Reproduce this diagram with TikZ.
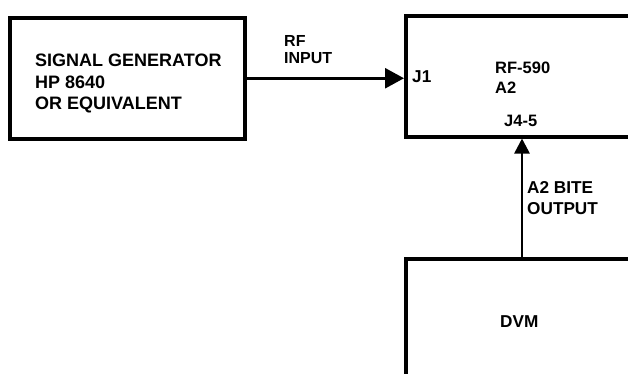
\documentclass[tikz,border=0pt]{standalone}
\usepackage{fontspec}
\setmainfont{Liberation Sans}
\usetikzlibrary{arrows.meta}
\begin{document}
\begin{tikzpicture}[x=1pt,y=-1pt,
  box/.style={draw, line width=3.5pt, inner sep=0pt, anchor=north west},
  lbl/.style={anchor=base west, inner sep=0pt, font=\fontsize{18}{20}\selectfont\bfseries},
  slbl/.style={lbl, font=\fontsize{16.5}{18}\selectfont\bfseries},
  xslbl/.style={lbl, font=\fontsize{16}{18}\selectfont\bfseries},
  mlbl/.style={lbl, font=\fontsize{17.2}{19}\selectfont\bfseries},
  conn/.style={line width=2.6pt},
  bigtip/.style={-{Triangle[length=19pt,width=20pt]}},
  smalltip/.style={-{Triangle[length=15pt,width=15pt]}}]
\useasboundingbox (0,0) rectangle (628,373);
\clip (0,0) rectangle (628,373);
% boxes
\node[box, minimum width=235pt, minimum height=121pt] (sg) at (8,16) {};
\node[box, minimum width=260pt, minimum height=121pt] (a2) at (404,14) {};
\node[box, minimum width=260pt, minimum height=140pt] (dvm) at (404,257) {};
% texts
\node[lbl] (t1) at (35,66) {SIGNAL GENERATOR};
\node[lbl] (t2) at (35,88) {HP 8640};
\node[lbl] (t3) at (35,109) {OR EQUIVALENT};
\node[xslbl] (rf1) at (284,46) {RF};
\node[xslbl] (rf2) at (284,63) {INPUT};
\node[mlbl] (j1) at (412,82) {J1};
\node[slbl] (a21) at (495,73) {RF-590};
\node[slbl] (a22) at (495,93) {A2};
\node[slbl] (j45) at (504,126) {J4-5};
\node[mlbl] (b1) at (527,193) {A2 BITE};
\node[mlbl] (b2) at (527,214) {OUTPUT};
\node[mlbl] (dv) at (500,327) {DVM};
% connectors
\draw[conn, bigtip] (sg.east) -- (sg.east -| a2.west);
\coordinate (bite) at (522,257);
\draw[conn, smalltip] (bite) -- (bite |- a2.south);
\end{tikzpicture}
\end{document}
